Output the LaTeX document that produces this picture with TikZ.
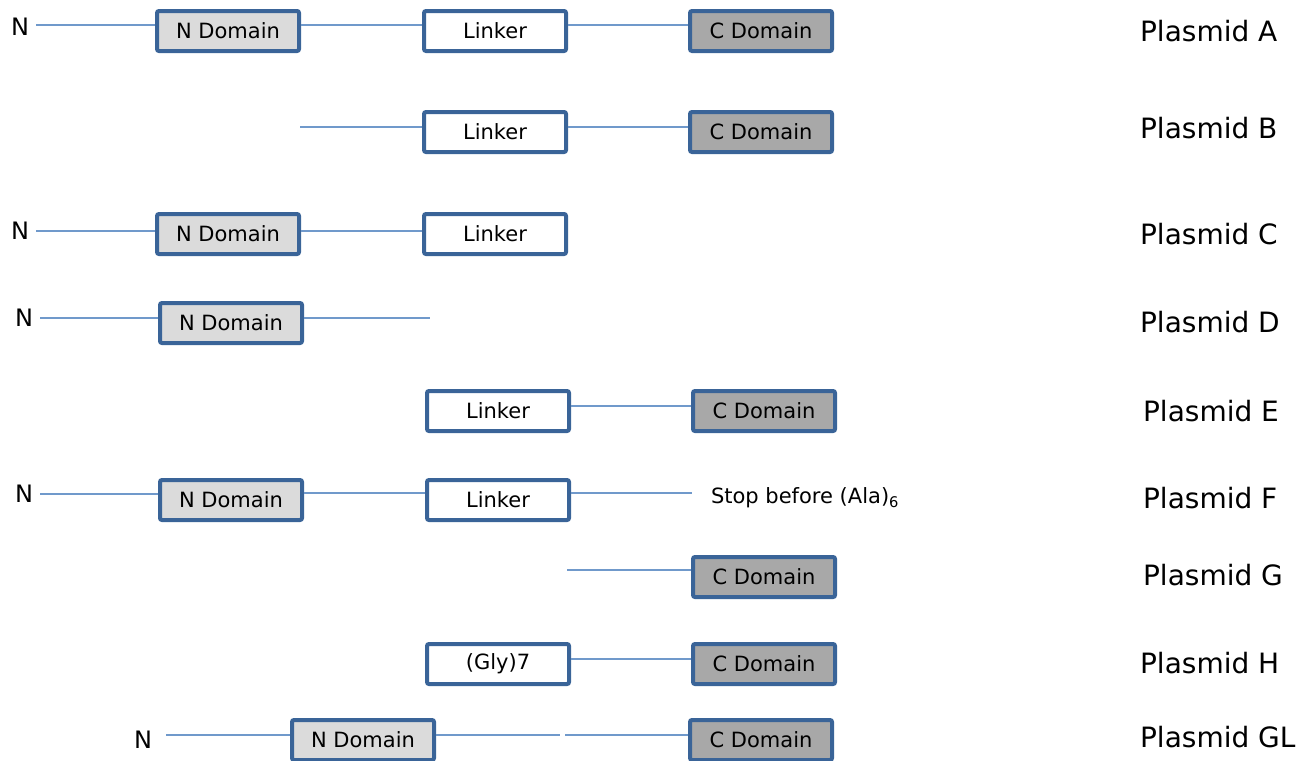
\documentclass[tikz,border=0pt]{standalone}
\usepackage{fontspec}
\setmainfont{DejaVu Sans}
\usetikzlibrary{positioning}

\definecolor{boxblue}{HTML}{3A6498}
\definecolor{lineblue}{HTML}{7099CB}

\begin{document}
\begin{tikzpicture}[
  x=0.5pt, y=-0.5pt,
  every node/.style={font=\fontsize{10.5}{12}\selectfont},
  seg/.style={draw=lineblue, line width=1pt},
  dombox/.style={draw=boxblue, line width=2pt, rounded corners=1pt,
                 minimum width=71pt, minimum height=20pt, inner sep=0pt},
  ndom/.style={dombox, fill=gray!28},
  cdom/.style={dombox, fill=gray!68},
  lnk/.style={dombox, fill=white},
  nterm/.style={font=\fontsize{12}{13}\selectfont},
  plabel/.style={font=\fontsize{14}{16}\selectfont, anchor=west}
]
\useasboundingbox (0,0) rectangle (1309,760);

% ---- Plasmid A ----
\node[nterm] (nA) at (20,27) {N};
\coordinate (yA) at (0,25);
\node[ndom] (ndA) at (228,31) {N Domain};
\node[lnk]  (lkA) at (495,31) {Linker};
\node[cdom] (cdA) at (761,31) {C Domain};
\draw[seg] (nA.east |- yA) -- (ndA.west |- yA);
\draw[seg] (ndA.east |- yA) -- (lkA.west |- yA);
\draw[seg] (lkA.east |- yA) -- (cdA.west |- yA);
\node[plabel] (pA) at (1133,31) {Plasmid A};

% ---- Plasmid B ----
\coordinate (sB) at (300,127);
\node[lnk]  (lkB) at (495,132) {Linker};
\node[cdom] (cdB) at (761,132) {C Domain};
\draw[seg] (sB) -- (sB -| lkB.west);
\draw[seg] (lkB.east |- sB) -- (cdB.west |- sB);
\node[plabel] (pB) at (1133,128) {Plasmid B};

% ---- Plasmid C ----
\node[nterm] (nC) at (20,231) {N};
\node[ndom] (ndC) at (228,234) {N Domain};
\node[lnk]  (lkC) at (495,234) {Linker};
\draw[seg] (nC.east) -- (nC.east -| ndC.west);
\draw[seg] (ndC.east |- nC) -- (lkC.west |- nC);
\node[plabel] (pC) at (1133,234) {Plasmid C};

% ---- Plasmid D ----
\node[nterm] (nD) at (24,318) {N};
\coordinate (eD) at (430,318);
\node[ndom] (ndD) at (231,323) {N Domain};
\draw[seg] (nD.east) -- (nD.east -| ndD.west);
\draw[seg] (ndD.east |- eD) -- (eD);
\node[plabel] (pD) at (1133,322) {Plasmid D};

% ---- Plasmid E ----
\node[lnk]  (lkE) at (498,411) {Linker};
\node[cdom] (cdE) at (764,411) {C Domain};
\draw[seg] (lkE.east) ++(0,-5) -- (cdE.west |- 0,406);
\node[plabel] (pE) at (1136,411) {Plasmid E};

% ---- Plasmid F ----
\node[nterm] (nF) at (24,494) {N};
\node[ndom] (ndF) at (231,500) {N Domain};
\node[lnk]  (lkF) at (498,500) {Linker};
\coordinate (eF) at (692,493);
\node[anchor=west] (stopF) at (704,498) {Stop before (Ala)\textsubscript{6}};
\draw[seg] (nF.east) -- (nF.east -| ndF.west);
\draw[seg] (ndF.east |- eF) -- (lkF.west |- eF);
\draw[seg] (lkF.east |- eF) -- (eF);
\node[plabel] (pF) at (1136,498) {Plasmid F};

% ---- Plasmid G ----
\coordinate (sG) at (567,570);
\node[cdom] (cdG) at (764,577) {C Domain};
\draw[seg] (sG) -- (sG -| cdG.west);
\node[plabel] (pG) at (1136,575) {Plasmid G};

% ---- Plasmid H ----
\node[lnk]  (glH) at (498,664) {(Gly)7};
\node[cdom] (cdH) at (764,664) {C Domain};
\draw[seg] (glH.east) ++(0,-5) -- (cdH.west |- 0,659);
\node[plabel] (pH) at (1133,663) {Plasmid H};

% ---- Plasmid GL ----
\node[nterm] (nGL) at (143,740) {N};
\node[ndom] (ndGL) at (363,740) {N Domain};
\coordinate (gapL) at (560,735);
\coordinate (gapR) at (565,735);
\node[cdom] (cdGL) at (761,740) {C Domain};
\draw[seg] (166,735) -- (ndGL.west |- gapL);
\draw[seg] (ndGL.east |- gapL) -- (gapL);
\draw[seg] (gapR) -- (cdGL.west |- gapR);
\node[plabel] (pGL) at (1133,737) {Plasmid GL};

\end{tikzpicture}
\end{document}
